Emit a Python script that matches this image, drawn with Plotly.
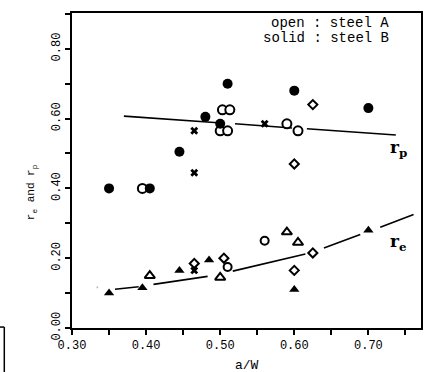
import plotly.graph_objects as go

# ---- data ----
# r_p, steel B (solid circles)
rp_B_x = [0.35, 0.405, 0.445, 0.48, 0.50, 0.51, 0.60, 0.70]
rp_B_y = [0.40, 0.40, 0.505, 0.605, 0.585, 0.70, 0.68, 0.63]
# r_p, steel A (open circles)
rp_A_x = [0.395, 0.503, 0.513, 0.50, 0.51, 0.59, 0.605]
rp_A_y = [0.40, 0.625, 0.625, 0.565, 0.565, 0.585, 0.565]
# r_p, crosses
rp_X_x = [0.465, 0.465, 0.56]
rp_X_y = [0.565, 0.445, 0.585]
# r_p, open diamonds
rp_D_x = [0.625, 0.60]
rp_D_y = [0.64, 0.47]
# r_p fit line (broken)
fit_rp_x = [0.37, 0.497, None, 0.52, 0.597, None, 0.617, 0.737]
fit_rp_y = [0.607, 0.588, None, 0.585, 0.573, None, 0.571, 0.553]

# r_e, steel B (solid triangles)
re_B_x = [0.35, 0.395, 0.445, 0.485, 0.60, 0.70]
re_B_y = [0.10, 0.115, 0.165, 0.195, 0.11, 0.28]
# r_e, steel A (open triangles)
re_A_x = [0.405, 0.50, 0.59, 0.605]
re_A_y = [0.15, 0.145, 0.275, 0.245]
# r_e, open circles
re_C_x = [0.51, 0.56]
re_C_y = [0.175, 0.25]
# r_e, open diamonds
re_D_x = [0.465, 0.505, 0.60, 0.625]
re_D_y = [0.185, 0.20, 0.165, 0.215]
# r_e, crosses
re_X_x = [0.465]
re_X_y = [0.165]
# r_e fit curve (broken)
fit_re_x = [0.334, None, 0.358, 0.390, None, 0.410, 0.483, None,
            0.517, 0.566, 0.615, None, 0.640, 0.689, None, 0.716, 0.761]
fit_re_y = [0.117, None, 0.111, 0.118, None, 0.125, 0.148, None,
            0.163, 0.188, 0.212, None, 0.229, 0.268, None, 0.289, 0.325]

x_ticks = [0.30, 0.40, 0.50, 0.60, 0.70]
x_tick_text = ["0.30", "0.40", "0.50", "0.60", "0.70"]
y_ticks = [0.0, 0.2, 0.4, 0.6, 0.8]
y_tick_text = ["0.00", "0.20", "0.40", "0.60", "0.80"]

FONT = "Liberation Mono"
K = "black"

fig = go.Figure()

# fit lines
fig.add_trace(go.Scatter(x=fit_rp_x, y=fit_rp_y, mode="lines",
                         line=dict(color=K, width=1.6), connectgaps=False))
fig.add_trace(go.Scatter(x=fit_re_x, y=fit_re_y, mode="lines+markers",
                         line=dict(color=K, width=1.6), connectgaps=False,
                         marker=dict(size=[2] + [0] * 16, color=K)))

def add(x, y, symbol, size, filled):
    if filled:
        m = dict(symbol=symbol, size=size, color=K, line=dict(width=0))
    else:
        m = dict(symbol=symbol, size=size, color="white", line=dict(color=K, width=2))
    fig.add_trace(go.Scatter(x=x, y=y, mode="markers", marker=m))

add(rp_A_x, rp_A_y, "circle", 9, False)
add(rp_B_x, rp_B_y, "circle", 10, True)
add(rp_X_x, rp_X_y, "x", 7, True)
add(rp_D_x, rp_D_y, "diamond", 7, False)
add(re_A_x, re_A_y, "triangle-up", 9, False)
add(re_B_x, re_B_y, "triangle-up", 9, True)
add(re_C_x, re_C_y, "circle", 8, False)
add(re_D_x, re_D_y, "diamond", 7, False)
add(re_X_x, re_X_y, "x", 7, True)

fig.update_layout(
    width=428, height=372,
    margin=dict(l=72, r=5, t=13, b=44),
    paper_bgcolor="white", plot_bgcolor="white",
    showlegend=False,
    font=dict(family=FONT, size=12, color=K),
)
fig.update_xaxes(range=[0.30, 0.771], tickvals=x_ticks, ticktext=x_tick_text,
                 ticks="outside", ticklen=5, tickwidth=1.5, tickcolor=K,
                 minor=dict(dtick=0.05, tick0=0.30, ticks="outside", ticklen=5, tickwidth=1.5, tickcolor=K),
                 showline=True, linecolor=K, linewidth=2, mirror=True,
                 showgrid=False, zeroline=False,
                 tickfont=dict(family=FONT, size=12, color=K))
fig.update_yaxes(range=[0.0, 0.9025], tickvals=y_ticks, ticktext=y_tick_text,
                 tickangle=-90,
                 ticks="outside", ticklen=5, tickwidth=1.5, tickcolor=K,
                 minor=dict(dtick=0.1, tick0=0.0, ticks="outside", ticklen=5, tickwidth=1.5, tickcolor=K),
                 showline=True, linecolor=K, linewidth=2, mirror=True,
                 showgrid=False, zeroline=False,
                 tickfont=dict(family=FONT, size=12, color=K))

ann = [
    dict(x=0.915, y=0.967, xref="paper", yref="paper", text="open : steel A",
         xanchor="right", yanchor="middle", font=dict(family=FONT, size=14, color=K)),
    dict(x=0.915, y=0.922, xref="paper", yref="paper", text="solid : steel B",
         xanchor="right", yanchor="middle", font=dict(family=FONT, size=14, color=K)),
    dict(x=0.727, y=0.515, xref="x", yref="y", text="<b>r<sub>p</sub></b>",
         xanchor="left", yanchor="middle", font=dict(family="DejaVu Serif", size=17, color=K)),
    dict(x=0.727, y=0.245, xref="x", yref="y", text="<b>r<sub>e</sub></b>",
         xanchor="left", yanchor="middle", font=dict(family="DejaVu Serif", size=17, color=K)),
    dict(x=-0.114, y=0.432, xref="paper", yref="paper", text="r<sub>e</sub> and r<sub>p</sub>",
         textangle=-90, xanchor="center", yanchor="middle",
         font=dict(family=FONT, size=11, color=K)),
    dict(x=0.5, y=-0.09, xref="paper", yref="paper", text="a/W",
         xanchor="center", yanchor="top", font=dict(family=FONT, size=13, color=K)),
]
for a in ann:
    a["showarrow"] = False
fig.update_layout(annotations=ann)

# scan artifact box in lower-left corner
fig.add_shape(type="line", xref="paper", yref="paper", x0=-0.21, x1=-0.194, y0=0.003, y1=0.003,
              line=dict(color=K, width=1.5))
fig.add_shape(type="line", xref="paper", yref="paper", x0=-0.194, x1=-0.194, y0=0.003, y1=-0.15,
              line=dict(color=K, width=1.5))

fig.write_html("out.html", config={"displayModeBar": False},
               post_script="document.body.style.margin='0';document.body.style.padding='0';")
